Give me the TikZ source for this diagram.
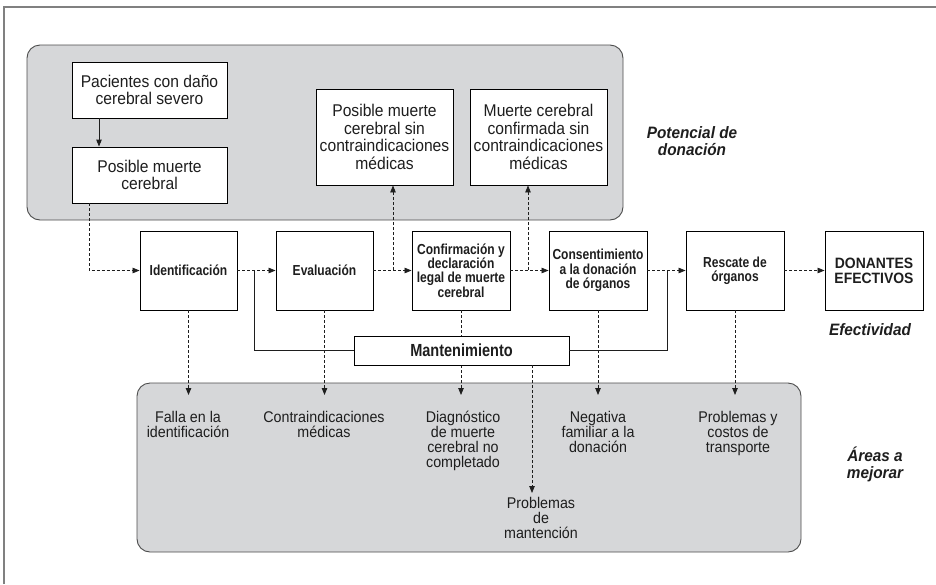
\documentclass[tikz,border=0pt]{standalone}
\usepackage{fontspec}
\usetikzlibrary{arrows.meta,calc}
\newfontfamily\nfont[FakeStretch=0.92]{Liberation Sans}
\newfontfamily\bfont[FakeStretch=0.83]{Liberation Sans}
\newfontfamily\dfont[FakeStretch=0.93]{Liberation Sans}
\newfontfamily\ifont[FakeStretch=0.93]{Liberation Sans}
\definecolor{panelgray}{HTML}{D6D7D9}
\definecolor{ink}{HTML}{1E1E1E}
\tikzset{
  box/.style={draw=black, line width=0.9pt, fill=white, align=center, inner sep=1pt, text=ink},
  ubox/.style={box, font=\nfont\fontsize{17}{17.5}\selectfont},
  pbox/.style={box, minimum width=97, minimum height=79, font=\bfont\bfseries\fontsize{14.5}{14.3}\selectfont},
  panel/.style={draw=black!70, line width=0.9pt, fill=panelgray, rounded corners=13, inner sep=0pt},
  ltext/.style={align=center, inner sep=0pt, anchor=base, text=ink, font=\nfont\fontsize{15.5}{15}\selectfont},
  itext/.style={align=center, inner sep=0pt, anchor=base, text=ink, font=\ifont\bfseries\itshape\fontsize{16.5}{17}\selectfont},
  darr/.style={draw=ink, line width=0.8pt, dash pattern=on 3pt off 2pt, -{Triangle[length=7pt,width=5.5pt]}},
  sarr/.style={draw=ink, line width=0.9pt, -{Triangle[length=7pt,width=5.5pt]}},
  sline/.style={draw=ink, line width=0.9pt},
  frame/.style={draw=black!50, line width=1.4pt}
}
\begin{document}
\begin{tikzpicture}[x=1pt,y=-1pt]
\useasboundingbox (0,0) rectangle (936,584);
\draw[frame] (4,584) -- (4,7) -- (936,7);

% panels
\node[panel, minimum width=596, minimum height=175] (toppanel) at (325,132.5) {};
\node[panel, minimum width=664, minimum height=169] (lowpanel) at (469,467.5) {};

% upper boxes
\node[ubox, minimum width=155, minimum height=56] (pac) at (149.5,90) {Pacientes con daño\\cerebral severo};
\node[ubox, minimum width=155, minimum height=56] (pmc) at (149.5,175) {Posible muerte\\cerebral};
\node[ubox, minimum width=137, minimum height=96] (pms) at (384.5,137) {Posible muerte\\cerebral sin\\contraindicaciones\\médicas};
\node[ubox, minimum width=137, minimum height=96] (mcc) at (538.5,137) {Muerte cerebral\\confirmada sin\\contraindicaciones\\médicas};

% process boxes
\node[pbox] (ident) at (188.5,270.5) {Identificación};
\node[pbox] (eval) at (324.5,270.5) {Evaluación};
\node[pbox, minimum width=98] (conf) at (461,270.5) {Confirmación y\\declaración\\legal de muerte\\cerebral};
\node[pbox, minimum width=98] (cons) at (598,270.5) {Consentimiento\\a la donación\\de órganos};
\node[pbox, minimum width=98] (resc) at (735,270.5) {Rescate de\\órganos};
\node[pbox, minimum width=98, font=\dfont\bfseries\fontsize{15}{15}\selectfont] (don) at (874,270.5) {DONANTES\\EFECTIVOS};

% labels (base = last line)
\node[itext] (pot) at (692,155) {Potencial de\\donación};
\node[itext] (efe) at (870,335) {Efectividad};
\node[itext] (are) at (875,478) {Áreas a\\mejorar};

% lower texts (base = last line)
\node[ltext] (fal) at (188,437) {Falla en la\\identificación};
\node[ltext] (cmd) at (324,437) {Contraindicaciones\\médicas};
\node[ltext] (diag) at (463,467) {Diagnóstico\\de muerte\\cerebral no\\completado};
\node[ltext] (neg) at (598,452) {Negativa\\familiar a la\\donación};
\node[ltext] (pyc) at (738,452) {Problemas y\\costos de\\transporte};
\node[ltext] (pdm) at (541,538) {Problemas\\de\\mantención};

% coordinates
\coordinate (br1) at (393,270);
\coordinate (br2) at (528,270);
\coordinate (j1) at (254,270);
\coordinate (j2) at (667,270);
\coordinate (c0) at (89,203);

% connectors
\draw[sarr] ([xshift=-50.5]pac.south) -- ([xshift=-50.5]pmc.north);
\draw[darr] (c0) |- (ident.west);
\draw[darr] (ident.east) -- (eval.west);
\draw[darr] (eval.east) -- (conf.west);
\draw[darr] (conf.east) -- (cons.west);
\draw[darr] (cons.east) -- (resc.west);
\draw[darr] (resc.east) -- (don.west);
\draw[darr] (br1) -- (br1 |- pms.south);
\draw[darr] (br2) -- (br2 |- mcc.south);

\draw[darr] (ident.south) -- (ident.south |- 0,395);
\draw[darr] (eval.south) -- (eval.south |- 0,395);
\draw[darr] (conf.south) -- (conf.south |- 0,395);
\draw[darr] (cons.south) -- (cons.south |- 0,395);
\draw[darr] (resc.south) -- (resc.south |- 0,395);

% mantenimiento
\node[box, minimum width=215, minimum height=29, font=\bfont\bfseries\fontsize{17.5}{17.5}\selectfont] (mant) at (461.5,350.5) {Mantenimiento};
\draw[sline] (mant.west) -| (j1);
\draw[sline] (mant.east) -| (j2);
\draw[darr] ([xshift=70.5]mant.south) -- ([xshift=70.5]mant.south |- 0,493);
\end{tikzpicture}
\end{document}
